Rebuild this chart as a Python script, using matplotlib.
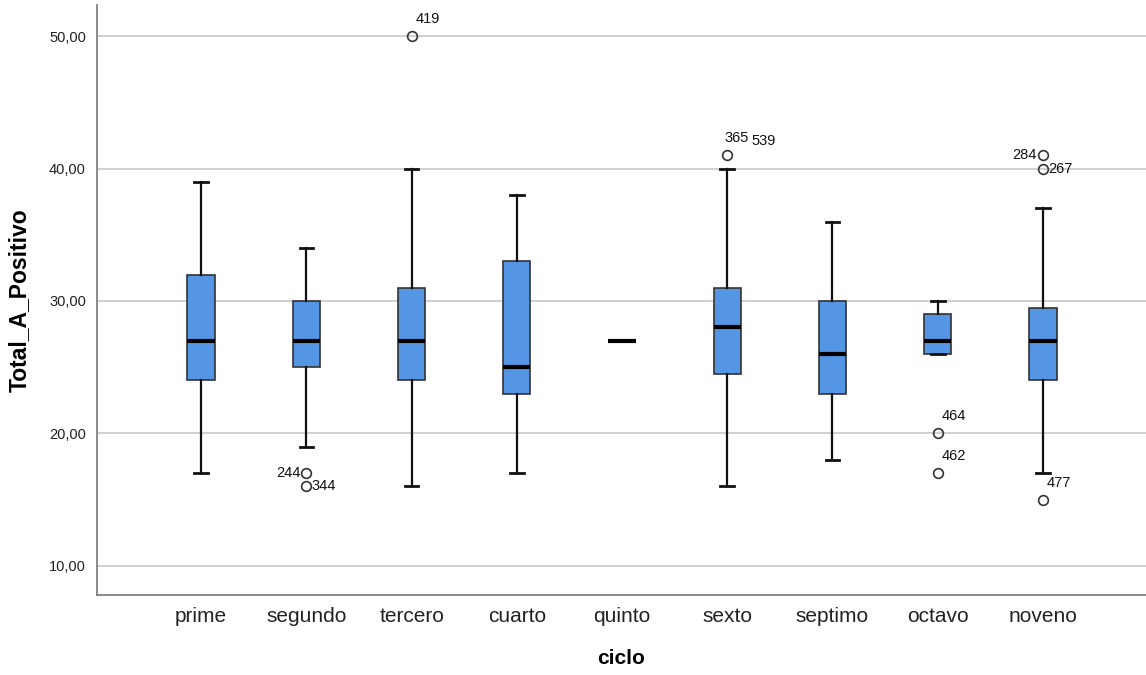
import matplotlib
matplotlib.use("Agg")
import matplotlib.pyplot as plt

plt.rcParams['font.family'] = ['Liberation Sans', 'DejaVu Sans']

categories = ["prime", "segundo", "tercero", "cuarto", "quinto", "sexto", "septimo", "octavo", "noveno"]
whisker_low = [17, 19, 16, 17, 27, 16, 18, 26, 17]
q1 = [24, 25, 24, 23, 27, 24.5, 23, 26, 24]
median = [27, 27, 27, 25, 27, 28, 26, 27, 27]
q3 = [32, 30, 31, 33, 27, 31, 30, 29, 29.5]
whisker_high = [39, 34, 40, 38, 27, 40, 36, 30, 37]
outliers = [[], [17, 16], [50], [], [], [41], [], [20, 17], [41, 40, 15]]
# outlier labels: (category index, value, label, dx px, dy px, ha)
outlier_labels = [
    (1, 17, "244", -6, 0, "right"),
    (1, 16, "344", 5, 0, "left"),
    (2, 50, "419", 4, 17, "left"),
    (5, 41, "365", -3, 17, "left"),
    (5, 41, "539", 24, 14, "left"),
    (7, 20, "464", 4, 17, "left"),
    (7, 17, "462", 4, 17, "left"),
    (8, 41, "284", -6, 0, "right"),
    (8, 40, "267", 5, 0, "left"),
    (8, 15, "477", 4, 17, "left"),
]

fig = plt.figure(figsize=(11.46, 6.75), dpi=100)
ax = fig.add_axes([97/1146, 1 - 595/675, 1 - 97/1146, 590/675])

stats = []
for i in range(len(categories)):
    stats.append(dict(whislo=whisker_low[i], q1=q1[i], med=median[i], q3=q3[i],
                      whishi=whisker_high[i], fliers=outliers[i], label=categories[i]))

ax.bxp(stats, positions=range(len(categories)), widths=0.26, patch_artist=True,
       boxprops=dict(facecolor='#5596E4', edgecolor='#333333', linewidth=1.2),
       medianprops=dict(color='black', linewidth=3),
       whiskerprops=dict(color='#111111', linewidth=1.6),
       capprops=dict(color='#111111', linewidth=2),
       capwidths=0.13,
       flierprops=dict(marker='o', markersize=7, markerfacecolor='none',
                       markeredgecolor='#333333', markeredgewidth=1.2))

for idx, val, lab, dx, dy, ha in outlier_labels:
    ax.annotate(lab, (idx, val), xytext=(dx, dy), textcoords='offset pixels',
                ha=ha, va='center', fontsize=10.5, color='#111111')

ax.set_xlim(-0.99, 8.98)
ax.set_ylim(7.8, 52.35)
ax.set_yticks([10, 20, 30, 40, 50])
ax.set_yticklabels(["10,00", "20,00", "30,00", "40,00", "50,00"], fontsize=10.5, color='#222222')
ax.set_xticks(range(len(categories)))
ax.set_xticklabels(categories, fontsize=15, color='#222222')
ax.tick_params(axis='both', length=0)
ax.tick_params(axis='x', pad=9)
ax.tick_params(axis='y', pad=8)
ax.yaxis.grid(True, color='#c8c8c8', linewidth=1.2)
ax.set_axisbelow(True)
for s in ['top', 'right']:
    ax.spines[s].set_visible(False)
for s in ['left', 'bottom']:
    ax.spines[s].set_color('#777777')
    ax.spines[s].set_linewidth(1.2)

ax.set_xlabel("ciclo", fontsize=15, fontweight='bold', labelpad=16)
ax.set_ylabel("Total_A_Positivo", fontsize=16.5, fontweight='bold', labelpad=13)

fig.savefig("out.png", dpi=100)
